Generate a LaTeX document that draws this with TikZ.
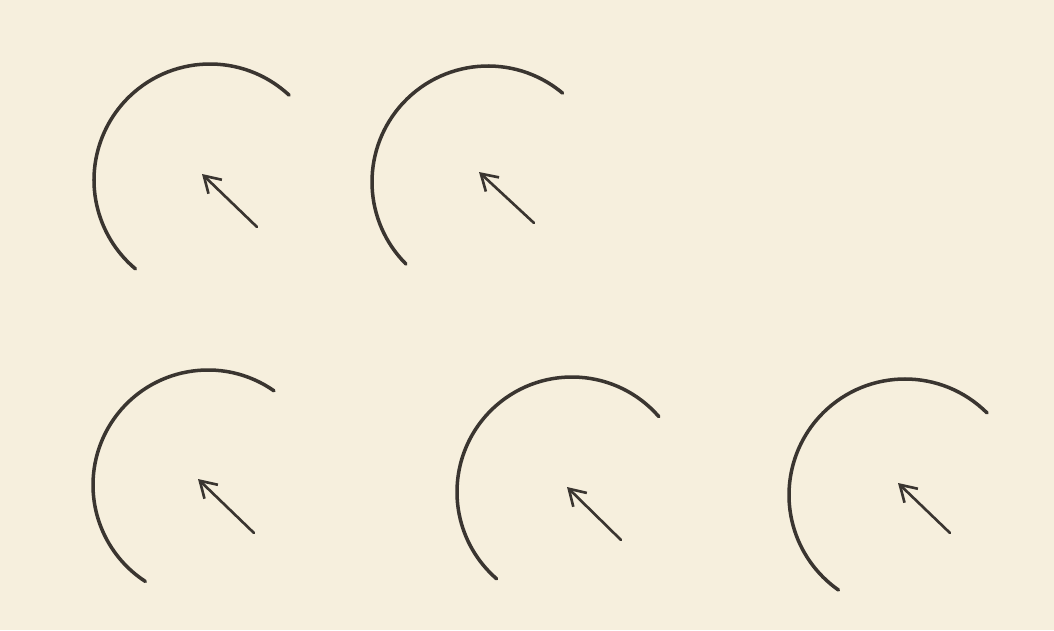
\documentclass[tikz,border=0pt]{standalone}
\usepackage{xcolor}
\usepackage{tikz}
\usetikzlibrary{arrows.meta}
\definecolor{paper}{HTML}{F6EFDD}
\definecolor{ink}{HTML}{3A3530}

\begin{document}
\begin{tikzpicture}[
  x=0.02cm, y=0.02cm,
  >={Straight Barb[length=9pt,width=11pt]},
  % ---- styles ----
  arcline/.style={draw=ink, line width=2.0pt, line cap=round},
  pointer/.style={->, draw=ink, line width=1.5pt, line cap=round},
]

% ---- Paper ----
\fill[paper] (0,0) rectangle (1054,630);
\useasboundingbox (0,0) rectangle (1054,630);

% ---- Figure 1 (top left) ----
\coordinate (c1) at (210,450);
\coordinate (t1) at (257,403);
\coordinate (h1) at (202,456);
\draw[arcline] (c1) ++(47:116) arc[start angle=47, end angle=230, radius=116];
\draw[pointer] (t1) -- (h1);

% ---- Figure 2 (top right) ----
\coordinate (c2) at (488,448);
\coordinate (t2) at (534,407);
\coordinate (h2) at (479,458);
\draw[arcline] (c2) ++(50:116) arc[start angle=50, end angle=225, radius=116];
\draw[pointer] (t2) -- (h2);

% ---- Figure 3 (bottom left) ----
\coordinate (c3) at (208,145);
\coordinate (t3) at (254,97);
\coordinate (h3) at (198,151);
\draw[arcline] (c3) ++(55:115) arc[start angle=55, end angle=237, radius=115];
\draw[pointer] (t3) -- (h3);

% ---- Figure 4 (bottom middle) ----
\coordinate (c4) at (572,138);
\coordinate (t4) at (621,90);
\coordinate (h4) at (567,143);
\draw[arcline] (c4) ++(41:115) arc[start angle=41, end angle=229, radius=115];
\draw[pointer] (t4) -- (h4);

% ---- Figure 5 (bottom right) ----
\coordinate (c5) at (905,135);
\coordinate (t5) at (950,97);
\coordinate (h5) at (898,147);
\draw[arcline] (c5) ++(45:116) arc[start angle=45, end angle=235, radius=116];
\draw[pointer] (t5) -- (h5);

\end{tikzpicture}
\end{document}
